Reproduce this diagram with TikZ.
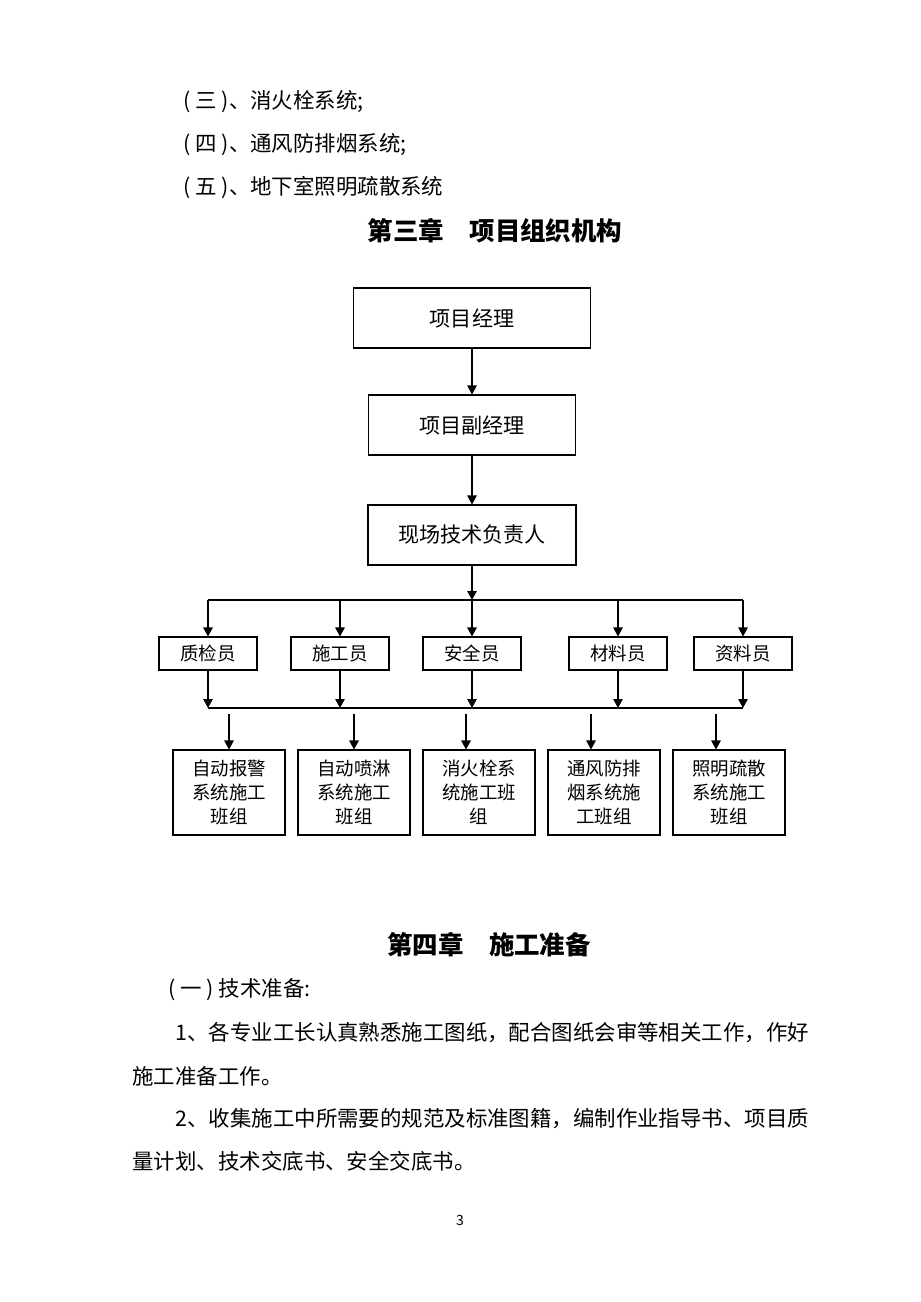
\documentclass[tikz,border=0pt]{standalone}
\usepackage{fontspec}
\setmainfont{Noto Sans CJK SC}
\usetikzlibrary{arrows.meta, positioning}

\begin{document}
\begin{tikzpicture}[x=0.02cm, y=-0.02cm, >={Triangle[length=1.8mm, width=1.9mm]}, line width=0.6pt]
    \tikzstyle{txt}=[anchor=west, inner sep=0pt, font=\fontsize{12.2}{14}\selectfont]
    \tikzstyle{head}=[inner sep=0pt, font=\fontsize{14.5}{17}\selectfont\bfseries]
    \tikzstyle{top}=[draw, minimum height=1.2cm, font=\fontsize{12}{14}\selectfont]
    \tikzstyle{role}=[draw, minimum width=1.96cm, minimum height=0.66cm, inner sep=0pt, font=\fontsize{10.5}{13}\selectfont]
    \tikzstyle{team}=[draw, minimum width=2.24cm, minimum height=1.7cm, inner sep=0pt, align=center, font=\fontsize{10.5}{13.7}\selectfont]

    \useasboundingbox (0,0) rectangle (920,1302);

    % text above the chart
    \node[txt] (l3) at (183,102) {( 三 )、消火栓系统;};
    \node[txt] (l4) at (183,145) {( 四 )、通风防排烟系统;};
    \node[txt] (l5) at (183,187) {( 五 )、地下室照明疏散系统};
    \node[head] (h3) at (495,231) {第三章　项目组织机构};

    \node[top, minimum width=4.74cm] (pm) at (472,318) {项目经理};
    \node[top, minimum width=4.14cm] (dpm) at (472,425) {项目副经理};
    \node[top, minimum width=4.16cm] (tech) at (472,535) {现场技术负责人};

    \node[role] (q) at (208,653.5) {质检员};
    \node[role] (c) at (340,653.5) {施工员};
    \node[role] (s) at (472,653.5) {安全员};
    \node[role] (m) at (618,653.5) {材料员};
    \node[role] (d) at (743,653.5) {资料员};

    \node[team] (g1) at (229,792.5) {自动报警\\系统施工\\班组};
    \node[team] (g2) at (354,792.5) {自动喷淋\\系统施工\\班组};
    \node[team] (g3) at (479,792.5) {消火栓系\\统施工班\\组};
    \node[team] (g4) at (604,792.5) {通风防排\\烟系统施\\工班组};
    \node[team] (g5) at (729,792.5) {照明疏散\\系统施工\\班组};

    \coordinate (b1) at (472,600);
    \coordinate (b2) at (472,708);
    \coordinate (s1) at (229,714);
    \coordinate (s2) at (354,714);
    \coordinate (s3) at (466,714);
    \coordinate (s4) at (591,714);
    \coordinate (s5) at (716,714);

    \draw[->] (pm) -- (dpm);
    \draw[->] (dpm) -- (tech);
    \draw[->] (tech) -- (b1);
    \draw (q |- b1) -- (d |- b1);
    \draw[->] (q |- b1) -- (q);
    \draw[->] (c |- b1) -- (c);
    \draw[->] (s |- b1) -- (s);
    \draw[->] (m |- b1) -- (m);
    \draw[->] (d |- b1) -- (d);

    \draw[->] (q) -- (q |- b2);
    \draw[->] (c) -- (c |- b2);
    \draw[->] (s) -- (s |- b2);
    \draw[->] (m) -- (m |- b2);
    \draw[->] (d) -- (d |- b2);
    \draw (q |- b2) -- (d |- b2);

    \draw[->] (s1) -- (s1 |- g1.north);
    \draw[->] (s2) -- (s2 |- g2.north);
    \draw[->] (s3) -- (s3 |- g3.north);
    \draw[->] (s4) -- (s4 |- g4.north);
    \draw[->] (s5) -- (s5 |- g5.north);

    % text below the chart
    \node[head] (h4) at (489,945) {第四章　施工准备};
    \node[txt] (p0) at (168,990) {( 一 ) 技术准备:};
    \node[txt] (p1) at (175,1033) {1、各专业工长认真熟悉施工图纸，配合图纸会审等相关工作，作好};
    \node[txt] (p2) at (132,1076) {施工准备工作。};
    \node[txt] (p3) at (175,1119) {2、收集施工中所需要的规范及标准图籍，编制作业指导书、项目质};
    \node[txt] (p4) at (132,1161) {量计划、技术交底书、安全交底书。};
    \node[font=\fontsize{8}{9}\selectfont] (pg) at (460,1220) {3};
\end{tikzpicture}
\end{document}
